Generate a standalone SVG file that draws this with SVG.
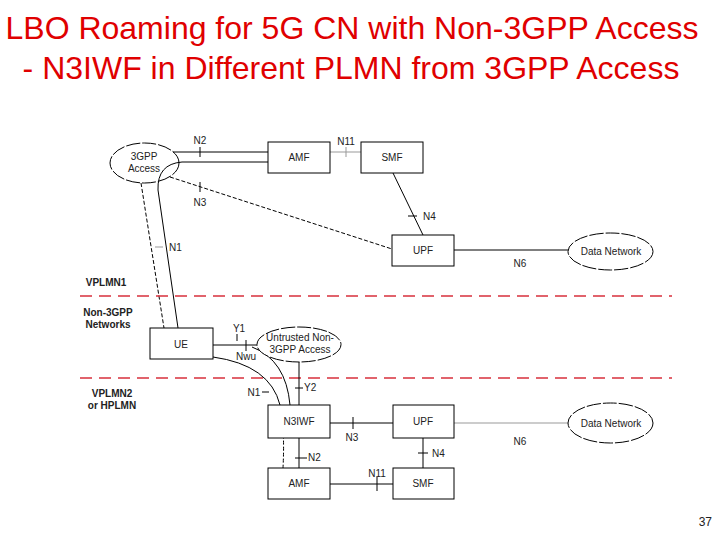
<svg xmlns="http://www.w3.org/2000/svg" width="720" height="540" viewBox="0 0 720 540">
<style>
.title{font-family:"Liberation Sans",Arial,sans-serif;font-size:32px;fill:#e00000;text-anchor:middle}
.box{fill:#fff;stroke:#000;stroke-width:1}
.ell{fill:#fff;stroke:#000;stroke-width:1;stroke-dasharray:14,2}
.t{font-family:"Liberation Sans",Arial,sans-serif;font-size:10px;fill:#222;text-anchor:middle}
.lbl{font-family:"Liberation Sans",Arial,sans-serif;font-size:10px;fill:#222}
.b{font-family:"Liberation Sans",Arial,sans-serif;font-size:10px;font-weight:bold;fill:#222;text-anchor:middle}
.ln{fill:none;stroke:#000;stroke-width:1}
.gl{fill:none;stroke:#999;stroke-width:1}
.dl{fill:none;stroke:#000;stroke-width:1;stroke-dasharray:4,2}
.red{fill:none;stroke:#d8303c;stroke-width:1.5;stroke-dasharray:12,7}
</style>
<rect width="720" height="540" fill="#fff"/>
<text class="title" x="352" y="39">LBO Roaming for 5G CN with Non-3GPP Access</text>
<text class="title" x="351" y="79">- N3IWF in Different PLMN from 3GPP Access</text>

<g id="connectors">
<path class="ln" d="M173,152 L268,152"/>
<path class="ln" d="M200,147 L200,157"/>
<path class="ln" d="M178,328 L158,190 Q157,164 182,162 L268,162"/>
<path class="dl" d="M141,183 L164,328"/>
<path class="gl" d="M155,247 L163,247"/>
<path class="dl" d="M170,177 L392,249"/>
<path class="ln" d="M200,182 L200,192"/>
<path class="gl" d="M330,152 L361,152"/>
<path class="gl" d="M346,147 L346,157"/>
<path class="ln" d="M393,173 L423,235"/>
<path class="ln" d="M408,216 L417,216"/>
<path class="ln" d="M454,250 L568,250"/>
<path class="red" d="M80,296 L672,296"/>
<path class="red" d="M80,378 L672,378"/>
<path class="ln" d="M213,345 L257,345"/>
<path class="ln" d="M237,334 L237,341"/>
<path class="ln" d="M246,340 L246,351"/>
<path class="ln" d="M213,357 Q270,365 280,405"/>
<path class="dl" d="M280,405 Q285,430 283,468"/>
<path class="ln" d="M262,392 L269,392"/>
<path class="ln" d="M252,347 Q286,360 290,405"/>
<path class="ln" d="M299,362 L299,405"/>
<path class="ln" d="M295,388 L303,388"/>
<path class="ln" d="M330,423 L393,423"/>
<path class="ln" d="M353,417 L353,429"/>
<path class="ln" d="M299,438 L299,468"/>
<path class="ln" d="M295,458 L307,458"/>
<path class="ln" d="M330,484 L393,484"/>
<path class="ln" d="M377,477 L377,491"/>
<path class="ln" d="M423,438 L423,468"/>
<path class="ln" d="M418,453 L428,453"/>
<path class="gl" d="M454,423 L568,423"/>
</g>

<g id="access3gpp"><ellipse class="ell" cx="144.5" cy="163" rx="34.5" ry="20" style="fill:none"/><text class="t" x="144" y="160">3GPP</text><text class="t" x="144" y="172">Access</text></g>
<g id="amf1"><rect class="box" x="268" y="142" width="62" height="31"/><text class="t" x="299" y="161">AMF</text></g>
<g id="smf1"><rect class="box" x="361" y="142" width="62" height="31"/><text class="t" x="392" y="161">SMF</text></g>
<g id="upf1"><rect class="box" x="392" y="235" width="62" height="31"/><text class="t" x="423" y="254">UPF</text></g>
<g id="dn1"><ellipse class="ell" cx="610.5" cy="251.5" rx="42.5" ry="18.5"/><text class="t" x="611" y="255">Data Network</text></g>
<g id="ue"><rect class="box" x="150" y="328" width="63" height="31"/><text class="t" x="181" y="348">UE</text></g>
<g id="untrusted"><ellipse class="ell" cx="299" cy="344.5" rx="42" ry="17.5"/><text class="t" x="300" y="341">Untrusted Non-</text><text class="t" x="300" y="353">3GPP Access</text></g>
<g id="n3iwf"><rect class="box" x="268" y="405" width="62" height="33"/><text class="t" x="299" y="425">N3IWF</text></g>
<g id="upf2"><rect class="box" x="393" y="405" width="61" height="33"/><text class="t" x="423" y="425">UPF</text></g>
<g id="amf2"><rect class="box" x="268" y="468" width="62" height="31"/><text class="t" x="299" y="487">AMF</text></g>
<g id="smf2"><rect class="box" x="393" y="468" width="61" height="31"/><text class="t" x="423" y="487">SMF</text></g>
<g id="dn2"><ellipse class="ell" cx="610.5" cy="423" rx="42.5" ry="20"/><text class="t" x="611" y="427">Data Network</text></g>

<g id="labels">
<text class="t" x="200" y="144">N2</text>
<text class="t" x="346" y="145">N11</text>
<text class="t" x="200" y="206">N3</text>
<text class="lbl" x="169" y="251">N1</text>
<text class="lbl" x="423" y="220">N4</text>
<text class="t" x="520" y="267">N6</text>
<text class="b" x="106" y="286">VPLMN1</text>
<text class="b" x="108" y="316">Non-3GPP</text>
<text class="b" x="108" y="328">Networks</text>
<text class="b" x="112" y="397">VPLMN2</text>
<text class="b" x="112" y="409">or HPLMN</text>
<text class="t" x="239" y="332">Y1</text>
<text class="t" x="246" y="360">Nwu</text>
<text class="t" x="254" y="396">N1</text>
<text class="lbl" x="304" y="391">Y2</text>
<text class="t" x="352" y="441">N3</text>
<text class="lbl" x="308" y="461">N2</text>
<text class="t" x="377" y="477">N11</text>
<text class="lbl" x="432" y="457">N4</text>
<text class="t" x="520" y="445">N6</text>
<text class="lbl" x="712" y="526" text-anchor="end" style="font-size:12px">37</text>
</g>
</svg>
